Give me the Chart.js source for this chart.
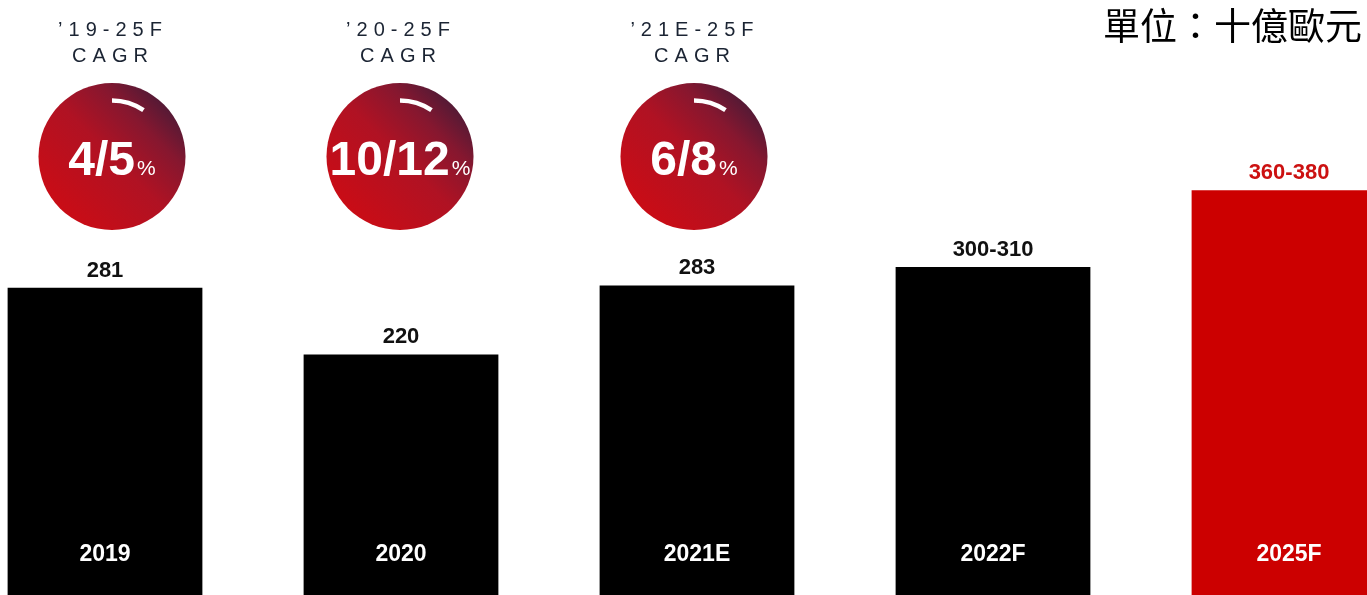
<!DOCTYPE html>
<html>
<head>
<meta charset="utf-8">
<script src="https://cdn.jsdelivr.net/npm/chart.js@4/dist/chart.umd.min.js"></script>
<style>
  html, body { margin: 0; padding: 0; background: #fff; overflow: hidden; }
  #wrap { position: relative; width: 1367px; height: 595px; overflow: hidden; }
  #chart { position: absolute; left: -43px; top: 0; }
</style>
</head>
<body>
<div id="wrap"><canvas id="chart" width="1480" height="595"></canvas></div>
<script>
// --- data ---
const years = ['2019', '2020', '2021E', '2022F', '2025F'];
const values = [281, 220, 283, 300, 370];
const valueLabels = ['281', '220', '283', '300-310', '360-380'];
const cagrPeriods = ['\u201919-25F', '\u201920-25F', '\u201921E-25F'];
const cagrValues = ['4/5', '10/12', '6/8'];
const unitText = '單位：十億歐元';

const barColors = ['#000000', '#000000', '#000000', '#000000', '#cc0000'];
const labelColors = ['#111111', '#111111', '#111111', '#111111', '#cc1111'];

const SANS = 'Arial, "Liberation Sans", Helvetica, sans-serif';
// bubbles are not exactly centred on their bars in the original
const bubbleShift = [7, -1, -3];

// --- custom drawing: labels, CAGR bubbles, unit ---
const decorPlugin = {
    id: 'decor',
    afterDatasetsDraw(chart) {
        const ctx = chart.ctx;
        const bars = chart.getDatasetMeta(0).data;
        ctx.save();

        bars.forEach((bar, i) => {
            // value on top of bar
            ctx.font = 'bold 22px ' + SANS;
            ctx.fillStyle = labelColors[i];
            ctx.textAlign = 'center';
            ctx.textBaseline = 'alphabetic';
            ctx.fillText(valueLabels[i], bar.x, bar.y - 11);

            // year inside bar near bottom
            ctx.font = 'bold 23px ' + SANS;
            ctx.fillStyle = '#ffffff';
            ctx.fillText(years[i], bar.x, 561);
        });

        // CAGR bubbles over first three bars
        cagrValues.forEach((txt, i) => {
            const cx = bars[i].x + bubbleShift[i];
            const cy = 156.5;
            const r = 73.5;

            ctx.font = '20px ' + SANS;
            ctx.fillStyle = '#1b2433';
            ctx.textAlign = 'center';
            ctx.letterSpacing = '6px';
            ctx.fillText(cagrPeriods[i], cx + 1, 36);
            ctx.fillText('CAGR', cx + 1, 62);
            ctx.letterSpacing = '0px';

            const g = ctx.createLinearGradient(cx - r * 0.75, cy + r * 0.75, cx + r * 0.75, cy - r * 0.75);
            g.addColorStop(0, '#cb0c15');
            g.addColorStop(0.5, '#b01223');
            g.addColorStop(0.78, '#86172f');
            g.addColorStop(1, '#4e1a36');
            ctx.beginPath();
            ctx.arc(cx, cy, r, 0, Math.PI * 2);
            ctx.fillStyle = g;
            ctx.fill();

            // white highlight arc
            ctx.beginPath();
            ctx.arc(cx, cy, 56, -Math.PI / 2, -Math.PI * 0.31);
            ctx.strokeStyle = '#ffffff';
            ctx.lineWidth = 4.5;
            ctx.stroke();

            // value text
            ctx.font = 'bold 48px ' + SANS;
            const w1 = ctx.measureText(txt).width;
            ctx.font = '21px ' + SANS;
            const w2 = ctx.measureText('%').width;
            const x0 = cx - (w1 + w2 + 2) / 2;
            ctx.textAlign = 'left';
            ctx.fillStyle = '#ffffff';
            ctx.font = 'bold 48px ' + SANS;
            ctx.fillText(txt, x0, 175);
            ctx.font = '21px ' + SANS;
            ctx.fillText('%', x0 + w1 + 2, 175);
        });

        // unit label top right
        ctx.font = '37px "Noto Sans CJK TC", sans-serif';
        ctx.fillStyle = '#000000';
        ctx.textAlign = 'right';
        ctx.textBaseline = 'alphabetic';
        ctx.fillText(unitText, 1362 + 43, 40);

        ctx.restore();
    }
};

new Chart(document.getElementById('chart'), {
    type: 'bar',
    data: {
        labels: years,
        datasets: [{
            data: values,
            backgroundColor: barColors,
            borderWidth: 0,
            barPercentage: 0.658,
            categoryPercentage: 1
        }]
    },
    options: {
        responsive: false,
        animation: false,
        layout: { padding: 0 },
        plugins: { legend: { display: false }, tooltip: { enabled: false } },
        scales: {
            x: { display: false },
            y: { display: false, min: 0, max: 544 }
        }
    },
    plugins: [decorPlugin]
});
</script>
</body>
</html>
